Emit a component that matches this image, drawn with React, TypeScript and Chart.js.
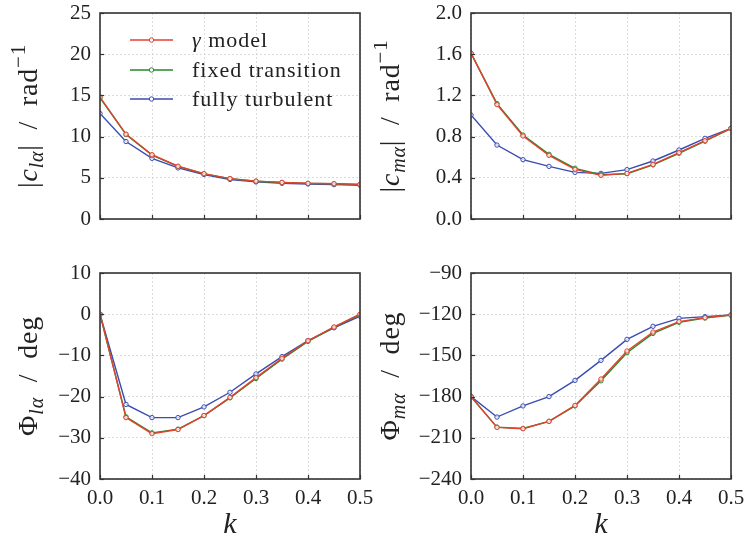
import React, { useEffect, useRef } from 'react';
import { Chart, registerables } from 'chart.js';

Chart.register(...registerables);

// ---------- data ----------
const kValues = [0, 0.05, 0.1, 0.15, 0.2, 0.25, 0.3, 0.35, 0.4, 0.45, 0.5];
const seriesLabels = ['γ model', 'fixed transition', 'fully turbulent'];
const seriesColors = ['#e4412f', '#24892a', '#3a4cb2'];

const clGamma = [14.8, 10.3, 7.8, 6.4, 5.5, 4.9, 4.6, 4.45, 4.33, 4.28, 4.2];
const clFixed = [14.7, 10.25, 7.75, 6.38, 5.48, 4.9, 4.58, 4.43, 4.32, 4.27, 4.2];
const clTurb = [12.8, 9.4, 7.36, 6.2, 5.4, 4.8, 4.5, 4.33, 4.25, 4.17, 4.1];

const cmGamma = [1.61, 1.11, 0.806, 0.618, 0.482, 0.424, 0.443, 0.53, 0.644, 0.76, 0.88];
const cmFixed = [1.61, 1.12, 0.815, 0.628, 0.492, 0.43, 0.44, 0.525, 0.638, 0.755, 0.88];
const cmTurb = [1.01, 0.718, 0.576, 0.511, 0.453, 0.443, 0.479, 0.563, 0.67, 0.783, 0.88];

const phlGamma = [0, -25.1, -29.0, -28.0, -24.6, -20.2, -15.4, -10.7, -6.45, -3.1, 0];
const phlFixed = [0, -24.9, -28.8, -27.9, -24.6, -20.3, -15.6, -10.9, -6.6, -3.2, -0.1];
const phlTurb = [0, -21.9, -25.1, -25.1, -22.5, -18.95, -14.5, -10.3, -6.4, -3.3, -0.5];

const phmGamma = [-180, -202.4, -203.4, -198.0, -186.4, -167.2, -146.8, -133.0, -125.4, -122.5, -120.6];
const phmFixed = [-180, -202.2, -203.2, -198.0, -186.8, -168.5, -148.0, -134.0, -125.9, -122.8, -120.6];
const phmTurb = [-180, -194.9, -186.8, -180.0, -168.2, -153.6, -138.3, -128.8, -123.0, -121.8, -120.6];

const xTickValues = [0, 0.1, 0.2, 0.3, 0.4, 0.5];
const clTicks = [0, 5, 10, 15, 20, 25];
const cmTicks = [0, 0.4, 0.8, 1.2, 1.6, 2.0];
const phlTicks = [-40, -30, -20, -10, 0, 10];
const phmTicks = [-240, -210, -180, -150, -120, -90];

// ---------- layout / style ----------
const FONT = '"Liberation Serif", "Times New Roman", serif';
const TICK_SIZE = 21;
const TITLE_SIZE = 28;
const SUB_SIZE = 20;

type Seg = { t: string; it?: boolean; s?: number; dy?: number };

const sub = (t: string): Seg => ({ t, it: true, s: SUB_SIZE, dy: 6 });
const sup = (t: string): Seg => ({ t, s: 21, dy: -12 });

type Panel = {
  left: number; top: number; w: number; h: number;
  plot: { l: number; t: number; r: number; b: number };
  yTicks: number[]; dec: number;
  data: number[][];
  title: Seg[]; titleX: number;
  xLabels: boolean; legend: boolean;
};

const panels: Panel[] = [
  {
    left: 0, top: 0, w: 374, h: 250,
    plot: { l: 100, t: 13, r: 360, b: 219 },
    yTicks: clTicks, dec: 0, data: [clGamma, clFixed, clTurb],
    title: [{ t: '|' }, { t: 'c', it: true }, sub('lα'), { t: '|\u2002/\u2002rad' }, sup('−1')],
    titleX: 37, xLabels: false, legend: true,
  },
  {
    left: 374, top: 0, w: 374, h: 250,
    plot: { l: 471, t: 13, r: 731, b: 219 },
    yTicks: cmTicks, dec: 1, data: [cmGamma, cmFixed, cmTurb],
    title: [{ t: '|' }, { t: 'c', it: true }, sub('mα'), { t: '|\u2002/\u2002rad' }, sup('−1')],
    titleX: 399, xLabels: false, legend: false,
  },
  {
    left: 0, top: 250, w: 374, h: 290,
    plot: { l: 100, t: 273, r: 360, b: 479 },
    yTicks: phlTicks, dec: 0, data: [phlGamma, phlFixed, phlTurb],
    title: [{ t: 'Φ' }, sub('lα'), { t: '\u2002/\u2002deg' }],
    titleX: 37, xLabels: true, legend: false,
  },
  {
    left: 374, top: 250, w: 374, h: 290,
    plot: { l: 471, t: 273, r: 731, b: 479 },
    yTicks: phmTicks, dec: 0, data: [phmGamma, phmFixed, phmTurb],
    title: [{ t: 'Φ' }, sub('mα'), { t: '\u2002/\u2002deg' }],
    titleX: 399, xLabels: true, legend: false,
  },
];

const fmt = (v: number, dec: number) => {
  const s = Math.abs(v).toFixed(dec);
  return v < -1e-9 ? '\u2212' + s : s;
};

function drawRich(ctx: CanvasRenderingContext2D, segs: Seg[], x: number, y: number, baseSize: number) {
  const widths: number[] = [];
  let total = 0;
  for (const s of segs) {
    ctx.font = `${s.it ? 'italic ' : ''}${s.s ?? baseSize}px ${FONT}`;
    const w = ctx.measureText(s.t).width;
    widths.push(w);
    total += w;
  }
  let cx = x - total / 2;
  segs.forEach((s, i) => {
    ctx.font = `${s.it ? 'italic ' : ''}${s.s ?? baseSize}px ${FONT}`;
    ctx.fillText(s.t, cx, y + (s.dy ?? 0));
    cx += widths[i];
  });
}

function labelSegs(label: string): Seg[] {
  const out: Seg[] = [];
  for (const ch of label) {
    const greek = /[\u0370-\u03ff]/.test(ch);
    const last = out[out.length - 1];
    if (last && !!last.it === greek) last.t += ch;
    else out.push({ t: ch, it: greek });
  }
  return out;
}

function PanelChart({ p }: { p: Panel }) {
  const ref = useRef<HTMLCanvasElement | null>(null);
  useEffect(() => {
    const canvas = ref.current;
    if (!canvas) return;
    const pl = p.plot.l - p.left;
    const pt = p.plot.t - p.top;
    const pr = p.left + p.w - p.plot.r;
    const pb = p.top + p.h - p.plot.b;

    const deco = {
      id: 'deco',
      afterDatasetsDraw(chart: any) {
        const { ctx, chartArea: a, scales } = chart;
        ctx.save();
        ctx.strokeStyle = '#333333';
        ctx.lineWidth = 1.2;
        ctx.setLineDash([]);
        for (const v of xTickValues) {
          const x = Math.round(scales.x.getPixelForValue(v)) + 0.5;
          ctx.beginPath(); ctx.moveTo(x, a.bottom); ctx.lineTo(x, a.bottom - 4); ctx.stroke();
        }
        for (const v of p.yTicks) {
          const y = Math.round(scales.y.getPixelForValue(v)) + 0.5;
          ctx.beginPath(); ctx.moveTo(a.left, y); ctx.lineTo(a.left + 4, y); ctx.stroke();
        }
        ctx.lineWidth = 1.6;
        ctx.strokeRect(a.left, a.top, a.right - a.left, a.bottom - a.top);
        ctx.restore();
      },
      afterDraw(chart: any) {
        const { ctx, chartArea: a } = chart;
        ctx.save();
        ctx.fillStyle = '#222222';
        ctx.textBaseline = 'alphabetic';
        // y title
        ctx.save();
        (ctx as any).letterSpacing = '0.8px';
        ctx.translate(p.titleX - p.left, (a.top + a.bottom) / 2);
        ctx.rotate(-Math.PI / 2);
        drawRich(ctx, p.title, 0, 0, TITLE_SIZE);
        ctx.restore();
        // x title
        if (p.xLabels) {
          drawRich(ctx, [{ t: 'k', it: true }], (a.left + a.right) / 2, 533 - p.top, 30);
        }
        // legend
        if (p.legend) {
          const rows = [40, 70, 99];
          chart.data.datasets.forEach((ds: any, i: number) => {
            const y = rows[i] - p.top;
            ctx.strokeStyle = ds.borderColor;
            ctx.lineWidth = 1.5;
            ctx.beginPath(); ctx.moveTo(130, y); ctx.lineTo(173, y); ctx.stroke();
            ctx.beginPath(); ctx.arc(151.5, y, 2.2, 0, Math.PI * 2);
            ctx.fillStyle = '#ffffff'; ctx.fill();
            ctx.lineWidth = 1; ctx.stroke();
            ctx.fillStyle = '#222222';
            ctx.textBaseline = 'middle';
            (ctx as any).letterSpacing = '1px';
            const segs = labelSegs(ds.label);
            let x = 192;
            for (const s of segs) {
              ctx.font = `${s.it ? 'italic ' : ''}22px ${FONT}`;
              ctx.fillText(s.t, x, y + 1);
              x += ctx.measureText(s.t).width;
            }
            (ctx as any).letterSpacing = '0px';
          });
        }
        ctx.restore();
      },
    };

    const chart = new Chart(canvas, {
      type: 'line',
      data: {
        datasets: p.data.map((vals, i) => ({
          label: seriesLabels[i],
          data: kValues.map((k, j) => ({ x: k, y: vals[j] })),
          borderColor: seriesColors[i],
          backgroundColor: seriesColors[i],
          borderWidth: 1.4,
          pointRadius: 2.2,
          pointBorderWidth: 1,
          pointBackgroundColor: 'rgba(255,255,255,0.75)',
          pointBorderColor: seriesColors[i],
          tension: 0,
          fill: false,
        })),
      },
      options: {
        responsive: false,
        animation: false,
        devicePixelRatio: 1,
        layout: { padding: { left: 0, top: pt, right: pr, bottom: p.xLabels ? 0 : pb } },
        plugins: { legend: { display: false }, tooltip: { enabled: false } },
        events: [],
        scales: {
          x: {
            type: 'linear', min: 0, max: 0.5,
            afterBuildTicks: (s: any) => { s.ticks = xTickValues.map((v) => ({ value: v })); },
            afterFit: (s: any) => { s.height = p.xLabels ? pb : 0; s.paddingLeft = 0; s.paddingRight = 0; },
            ticks: {
              display: p.xLabels, padding: 7, color: '#222222',
              font: { family: FONT, size: TICK_SIZE },
              callback: (v: any) => Number(v).toFixed(1),
              maxRotation: 0, autoSkip: false,
            },
            grid: { color: '#d4d4d4', lineWidth: 0.8, drawTicks: false },
            border: { display: false, dash: [2, 2] },
          },
          y: {
            type: 'linear', min: p.yTicks[0], max: p.yTicks[p.yTicks.length - 1],
            afterBuildTicks: (s: any) => { s.ticks = p.yTicks.map((v) => ({ value: v })); },
            afterFit: (s: any) => { s.width = pl; s.paddingTop = 0; s.paddingBottom = 0; },
            ticks: {
              padding: 9, color: '#222222',
              font: { family: FONT, size: TICK_SIZE },
              callback: (v: any) => fmt(Number(v), p.dec),
              autoSkip: false,
            },
            grid: { color: '#d4d4d4', lineWidth: 0.8, drawTicks: false },
            border: { display: false, dash: [2, 2] },
          },
        },
      },
      plugins: [deco],
    } as any);
    return () => chart.destroy();
  }, [p]);

  return (
    <canvas
      ref={ref}
      width={p.w}
      height={p.h}
      style={{ position: 'absolute', left: p.left, top: p.top, width: p.w, height: p.h }}
    />
  );
}

export default function App() {
  return (
    <div style={{ position: 'fixed', left: 0, top: 0, width: 748, height: 540, background: '#ffffff' }}>
      {panels.map((p, i) => (
        <PanelChart key={i} p={p} />
      ))}
    </div>
  );
}
